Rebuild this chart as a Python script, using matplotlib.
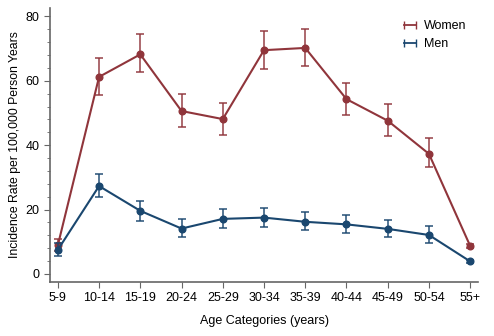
import matplotlib.pyplot as plt
from matplotlib.lines import Line2D

plt.rcParams['font.family'] = ['Liberation Sans', 'DejaVu Sans']

# Données
age_groups = ["5-9", "10-14", "15-19", "20-24", "25-29", "30-34",
              "35-39", "40-44", "45-49", "50-54", "55+"]
women = [8.9, 61.2, 68.2, 50.6, 48.1, 69.5, 70.2, 54.3, 47.6, 37.3, 8.7]
women_lo = [7.0, 55.7, 62.6, 45.7, 43.2, 63.7, 64.7, 49.4, 42.9, 33.2, 8.0]
women_hi = [11.0, 67.1, 74.4, 56.0, 53.2, 75.5, 76.0, 59.4, 52.7, 42.1, 9.4]
men = [7.5, 27.3, 19.6, 14.1, 17.1, 17.5, 16.2, 15.4, 14.0, 12.1, 3.9]
men_lo = [5.7, 24.0, 16.6, 11.4, 14.3, 14.7, 13.8, 12.8, 11.4, 9.7, 3.4]
men_hi = [9.5, 31.1, 22.8, 17.1, 20.2, 20.6, 19.2, 18.2, 16.8, 15.0, 4.4]

maroon = "#90353B"
navy = "#1A476F"

fig = plt.figure(figsize=(4.94, 3.36), dpi=100)
ax = fig.add_axes([50 / 494, (336 - 282) / 336, 428 / 494, 274 / 336])

x = list(range(len(age_groups)))

def draw(vals, lo, hi, color):
    err = [[v - l for v, l in zip(vals, lo)], [h - v for v, h in zip(vals, hi)]]
    ax.errorbar(x, vals, yerr=err, fmt="none", ecolor=color, alpha=0.8,
                elinewidth=1.3, capsize=3, capthick=1.3)
    ax.plot(x, vals, color=color, linewidth=1.5, marker="o", markersize=4.8)

draw(women, women_lo, women_hi, maroon)
draw(men, men_lo, men_hi, navy)

ax.set_xlim(-0.19, 10.19)
ax.set_ylim(-2.5, 82.6)
ax.set_xticks(x)
ax.set_xticklabels(age_groups)
ax.set_yticks([0, 20, 40, 60, 80])
ax.set_yticks(range(0, 81, 4), minor=True)

for s in ["top", "right"]:
    ax.spines[s].set_visible(False)
for s in ["left", "bottom"]:
    ax.spines[s].set_color("#666666")
    ax.spines[s].set_linewidth(1.2)
ax.tick_params(colors="#666666", labelcolor="black", labelsize=9, length=4)
ax.tick_params(axis="y", which="minor", length=2.5, colors="#666666")
ax.tick_params(axis="x", pad=3)

ax.set_xlabel("Age Categories (years)", fontsize=9, labelpad=8)
ax.set_ylabel("Incidence Rate per 100,000 Person Years", fontsize=8.8, labelpad=3)

handles = [Line2D([0, 1], [0, 0], color=maroon, marker="|", markersize=6, linewidth=1.3),
           Line2D([0, 1], [0, 0], color=navy, marker="|", markersize=6, linewidth=1.3)]
ax.legend(handles, ["Women", "Men"], numpoints=2, frameon=False, fontsize=9,
          loc="upper left", bbox_to_anchor=((395 - 50) / 428, (282 - 15) / 274),
          borderaxespad=0, handlelength=1.6, handletextpad=0.35, labelspacing=0.5)

fig.savefig("out.png", dpi=100)
